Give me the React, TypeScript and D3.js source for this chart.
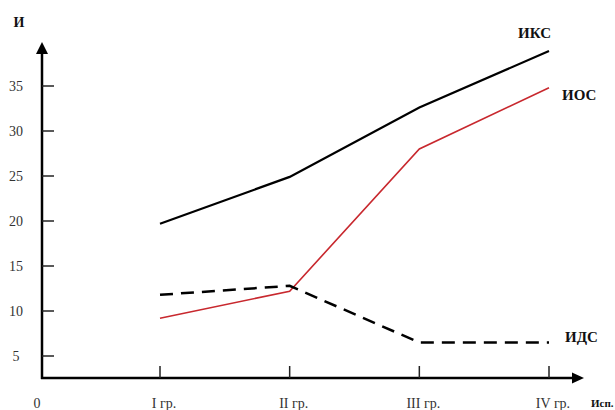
import React from "react";
import * as d3 from "d3";

const categories = ["I гр.", "II гр.", "III гр.", "IV гр."];
const iksValues = [19.7, 24.9, 32.6, 38.9];
const iosValues = [9.2, 12.2, 28.0, 34.8];
const idsValues = [11.8, 12.8, 6.5, 6.5];
const yTicks = [5, 10, 15, 20, 25, 30, 35];
const seriesNames = ["ИКС", "ИОС", "ИДС"];

const W = 615;
const H = 410;

export default function App() {
  const x = d3.scalePoint<string>().domain(categories).range([160, 549]);
  const y = d3.scaleLinear().domain([0, 40]).range([401, 41]);
  const axisX = 42;
  const axisY = 378;

  const line = (vals: number[], curve: d3.CurveFactory) =>
    d3
      .line<number>()
      .x((_, i) => x(categories[i]) as number)
      .y((v) => y(v))
      .curve(curve)(vals) as string;

  const serif = "'Liberation Serif', 'Times New Roman', serif";
  const xEnd = x(categories[3]) as number;

  return (
    <svg
      width={W}
      height={H}
      style={{ position: "absolute", left: 0, top: 0, background: "#fff" }}
      fontFamily={serif}
    >
      {/* Y axis */}
      <line x1={axisX} y1={axisY + 1} x2={axisX} y2={52} stroke="#000" strokeWidth={2.5} />
      <path d={`M${axisX - 6},54 L${axisX},42 L${axisX + 6},54 Z`} fill="#000" />
      {/* X axis */}
      <line x1={axisX - 1} y1={axisY} x2={574} y2={axisY} stroke="#000" strokeWidth={2.5} />
      <path d={`M572,${axisY - 5.5} L584,${axisY} L572,${axisY + 5.5} Z`} fill="#000" />

      {/* Y ticks */}
      {yTicks.map((t) => (
        <g key={t}>
          <line x1={axisX} x2={axisX + 12} y1={y(t)} y2={y(t)} stroke="#222" strokeWidth={1.5} />
          <text x={16} y={y(t) + 5} textAnchor="middle" fontSize={14} fill="#333">
            {t}
          </text>
        </g>
      ))}
      <text x={37} y={408} textAnchor="middle" fontSize={14} fill="#333">
        0
      </text>

      {/* X ticks */}
      {categories.map((c) => (
        <g key={c}>
          <line
            x1={x(c) as number}
            x2={x(c) as number}
            y1={axisY}
            y2={axisY - 12}
            stroke="#222"
            strokeWidth={1.5}
          />
          <text x={(x(c) as number) + 4} y={408} textAnchor="middle" fontSize={14} fill="#333">
            {c}
          </text>
        </g>
      ))}

      {/* Series */}
      <path d={line(iksValues, d3.curveLinear)} fill="none" stroke="#000" strokeWidth={2.2} />
      <path d={line(iosValues, d3.curveLinear)} fill="none" stroke="#c8282e" strokeWidth={1.6} />
      <path
        d={line(idsValues, d3.curveLinear)}
        fill="none"
        stroke="#000"
        strokeWidth={2.5}
        strokeDasharray="13,8"
      />

      {/* Labels */}
      <text x={xEnd - 31} y={38} fontSize={15} fontWeight="bold" fill="#111">
        {seriesNames[0]}
      </text>
      <text x={xEnd + 13} y={100} fontSize={15} fontWeight="bold" fill="#111">
        {seriesNames[1]}
      </text>
      <text x={xEnd + 16} y={342} fontSize={15} fontWeight="bold" fill="#111">
        {seriesNames[2]}
      </text>
      <text x={591} y={407} fontSize={11} fontWeight="bold" fill="#111">
        Исп.
      </text>
      <text x={19} y={27} textAnchor="middle" fontSize={14} fontWeight="bold" fill="#111">
        И
      </text>
    </svg>
  );
}
